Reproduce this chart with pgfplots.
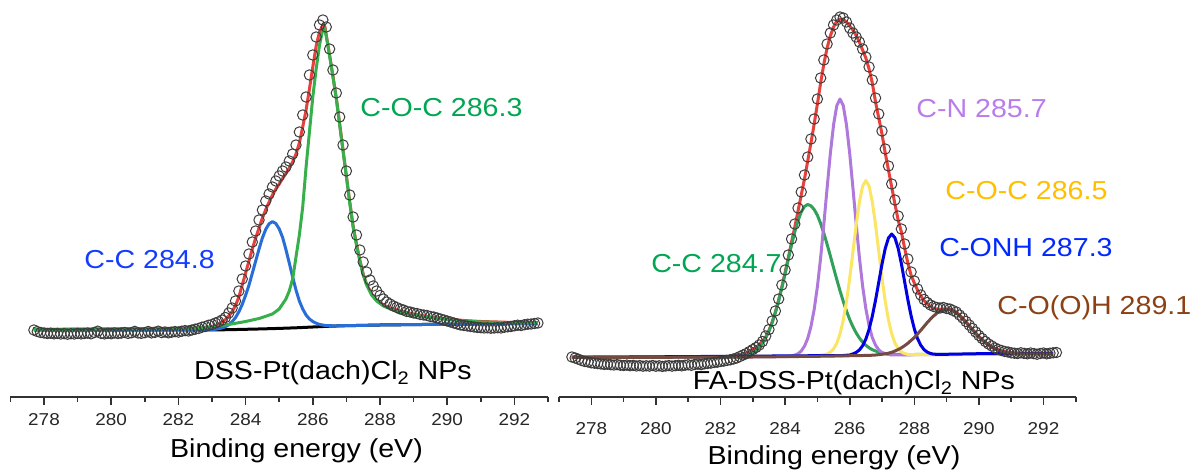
\documentclass[border=0pt]{standalone}
\usepackage{pgfplots}
\pgfplotsset{compat=1.18}
\usepackage{fontspec}
\setmainfont{Liberation Sans}[FakeStretch=1.1]
\definecolor{cred}{RGB}{232,64,58}
\definecolor{lgreen}{RGB}{55,175,75}
\definecolor{lblue}{RGB}{40,110,215}
\definecolor{tgreen}{RGB}{0,166,81}
\definecolor{tblue}{RGB}{20,60,255}
\definecolor{rgreen}{RGB}{50,160,90}
\definecolor{rpurple}{RGB}{175,120,220}
\definecolor{ryellow}{RGB}{250,230,100}
\definecolor{rblue}{RGB}{0,0,225}
\definecolor{rbrown}{RGB}{115,75,65}
\definecolor{tpurple}{RGB}{185,125,235}
\definecolor{torange}{RGB}{255,190,0}
\definecolor{tcblue}{RGB}{0,40,255}
\definecolor{tbrown}{RGB}{140,65,20}
\definecolor{circ}{RGB}{60,60,60}
\definecolor{axc}{RGB}{50,50,50}
\pgfplotsset{
  xps/.style={
    scale only axis, height=195pt,
    xmin=277, xmax=293, ymin=0, ymax=390,
    axis x line=bottom, axis y line=none,
    x axis line style={-, line width=0.9pt, draw=axc},
    xtick={278,280,...,292}, minor xtick={277,279,...,293},
    tick align=outside, major tick length=4pt, minor tick length=2.4pt,
    every tick/.style={line width=0.8pt, draw=axc},
    xticklabel style={font=\fontsize{8.6}{10}\selectfont, text=black!85},
    /pgf/number format/assume math mode=true,
    /pgf/number format/1000 sep={},
    clip=false,
  },
  dat/.style={only marks, mark=o, mark size=2.6pt, mark options={draw=circ, line width=0.5pt}},
  fit/.style={no marks, line width=1.5pt, line join=round},
}
\begin{document}
\begin{tikzpicture}
\useasboundingbox (0pt,0pt) rectangle (595.5pt,236pt);
% ---------------- left panel ----------------
\begin{axis}[xps, at={(5.2pt,37.5pt)}, anchor=south west, width=268.8pt,
  xticklabel style={yshift=-0.5pt}]
\addplot[dat] coordinates {
(277.7,67.0) (277.8,65.5) (277.9,64.5) (278.0,64.0) (278.1,63.5) (278.2,63.8) (278.3,63.2) (278.4,63.6) (278.5,63.0) (278.6,63.4)
(278.7,62.8) (278.8,63.3) (278.9,63.0) (279.0,63.6) (279.1,63.1) (279.2,63.5) (279.3,63.9) (279.4,63.2) (279.5,64.5) (279.6,65.8)
(279.7,63.6) (279.8,63.1) (279.9,63.7) (280.0,63.3) (280.1,64.0) (280.2,63.5) (280.3,63.9) (280.4,64.5) (280.5,63.6) (280.6,64.2)
(280.7,65.6) (280.8,64.0) (280.9,63.7) (281.0,64.3) (281.1,65.5) (281.2,64.1) (281.3,64.6) (281.4,65.8) (281.5,64.4) (281.6,65.0)
(281.7,64.2) (281.8,64.8) (281.9,65.4) (282.0,64.9) (282.1,65.8) (282.2,66.4) (282.3,66.0) (282.4,67.0) (282.5,67.8) (282.6,68.5)
(282.7,69.8) (282.8,70.5) (282.9,71.8) (283.0,72.5) (283.1,74.0) (283.2,75.2) (283.3,77.0) (283.4,79.5) (283.5,84.0) (283.6,89.0)
(283.7,96.0) (283.8,106.0) (283.9,118.0) (284.0,131.0) (284.1,143.0) (284.2,155.0) (284.3,166.0) (284.4,177.0) (284.5,187.0) (284.6,196.0)
(284.7,203.0) (284.8,210.0) (284.9,216.0) (285.0,221.0) (285.1,226.0) (285.2,230.0) (285.3,236.0) (285.4,243.0) (285.5,252.0) (285.6,265.0)
(285.7,282.0) (285.8,300.0) (285.9,322.0) (286.0,342.0) (286.1,360.0) (286.2,372.0) (286.3,377.0) (286.4,370.0) (286.5,348.0) (286.6,327.0)
(286.7,304.0) (286.8,280.0) (286.9,252.0) (287.0,226.0) (287.1,202.0) (287.2,180.0) (287.3,162.0) (287.4,147.0) (287.5,135.0) (287.6,125.0)
(287.7,117.0) (287.8,111.0) (287.9,106.0) (288.0,101.5) (288.1,98.0) (288.2,95.0) (288.3,93.0) (288.4,91.0) (288.5,89.5) (288.6,88.0)
(288.7,87.0) (288.8,85.5) (288.9,85.0) (289.0,84.0) (289.1,83.5) (289.2,82.5) (289.3,82.0) (289.4,81.5) (289.5,80.5) (289.6,80.0)
(289.7,79.0) (289.8,78.0) (289.9,77.0) (290.0,76.0) (290.1,75.0) (290.2,74.0) (290.3,73.0) (290.4,72.0) (290.5,71.5) (290.6,71.0)
(290.7,70.5) (290.8,70.0) (290.9,69.5) (291.0,69.3) (291.1,69.0) (291.2,69.2) (291.3,68.8) (291.4,69.0) (291.5,69.3) (291.6,69.0)
(291.7,69.8) (291.8,70.2) (291.9,70.5) (292.0,71.2) (292.1,71.8) (292.2,71.5) (292.3,72.3) (292.4,72.8) (292.5,73.0) (292.6,73.5)
(292.7,74.0)
};
% Shirley background
\addplot[fit, black] coordinates {
(277.7,67) (282.5,67) (283,67.1) (283.5,67.3) (284,67.7) (284.5,68.1) (285,68.6) (285.5,69.2) (286,70) (286.5,70.8)
(287,71.3) (288,72) (290,72.8) (292.7,73.5)
};
% envelope
\addplot[fit, cred] coordinates {
(277.7,67.5) (282.5,68.9) (282.6,69) (282.8,69.4) (283.0,70.5) (283.1,71.5) (283.2,73) (283.3,75) (283.4,77.5) (283.5,81)
(283.6,85.5) (283.7,91.5) (283.8,100) (283.9,112) (284.0,124) (284.1,136) (284.2,148) (284.3,159) (284.4,169) (284.5,179)
(284.6,187.5) (284.7,195) (284.8,202) (284.9,208) (285.0,213) (285.1,218.5) (285.2,223.5) (285.3,229) (285.4,235) (285.5,243)
(285.6,254) (285.7,270) (285.8,287) (285.9,308) (286.0,330) (286.1,351) (286.2,365) (286.3,372) (286.35,372) (286.4,362)
(286.5,342) (286.6,321) (286.7,299) (286.8,273) (286.9,247) (287.0,221) (287.1,195) (287.2,171) (287.3,153) (287.4,137)
(287.5,123) (287.6,113) (287.75,103) (287.9,97) (288.1,92) (288.35,88.5) (288.6,86) (289.0,83) (289.5,80) (290.0,78)
(290.5,76.5) (291.0,75.5) (292.0,74.5) (292.7,74.3)
};
% C-C 284.8
\addplot[fit, lblue] coordinates {
(277.7,67) (282.5,67) (283.0,67.4) (283.1,67.8) (283.2,68.3) (283.3,69.1) (283.4,70.3) (283.5,72.3) (283.6,75.4) (283.7,79.4)
(283.8,85.2) (283.9,92.6) (284.0,101.7) (284.1,111.8) (284.2,123.8) (284.3,135.9) (284.4,148) (284.5,159.1) (284.6,167.7) (284.7,173.3)
(284.8,175.4) (284.9,173.5) (285.0,168.1) (285.1,159.7) (285.2,147.5) (285.3,134) (285.4,120) (285.5,107) (285.6,96) (285.7,88)
(285.8,82) (285.9,78) (286.0,75.5) (286.1,73.8) (286.2,72.6) (286.3,71.9) (286.4,71.5) (286.6,71.2) (287.0,71.3) (288.0,72)
(290.0,72.8) (292.7,73.5)
};
% C-O-C 286.3
\addplot[fit, lgreen] coordinates {
(277.7,67.5) (279,67.8) (280.5,68.1) (281.5,68.4) (282.5,68.9) (283.0,70) (283.5,72.5) (284.0,75.5) (284.4,78.5) (284.8,83)
(285.0,88) (285.2,98) (285.3,106) (285.4,118) (285.5,140) (285.6,162) (285.7,190) (285.8,230) (285.9,265) (286.0,300)
(286.1,328) (286.2,352) (286.3,368) (286.35,369) (286.4,361) (286.5,341) (286.6,320) (286.7,298) (286.8,272) (286.9,246)
(287.0,220) (287.1,194) (287.2,170) (287.3,152) (287.4,136) (287.5,122) (287.6,112) (287.75,102) (287.9,96) (288.1,91)
(288.35,87.5) (288.6,85) (289.0,82) (289.5,79.5) (290.0,77.5) (290.5,76) (291.0,75) (292.0,74.2) (292.7,74)
};
\end{axis}
% ---------------- right panel ----------------
\begin{axis}[xps, at={(279.5pt,37.5pt)}, anchor=south west, width=258.4pt,
  xticklabel style={yshift=-5pt}]
\addplot[dat] coordinates {
(277.4,40.0) (277.5,39.0) (277.6,37.8) (277.7,36.5) (277.8,35.5) (277.9,35.0) (278.0,34.2) (278.1,33.8) (278.2,33.4) (278.3,33.0)
(278.4,32.6) (278.5,32.8) (278.6,32.3) (278.7,32.0) (278.8,32.4) (278.9,31.8) (279.0,31.5) (279.1,31.9) (279.2,31.3) (279.3,31.6)
(279.4,31.0) (279.5,31.4) (279.6,30.8) (279.7,31.2) (279.8,30.9) (279.9,31.5) (280.0,30.8) (280.1,31.2) (280.2,30.6) (280.3,31.0)
(280.4,31.4) (280.5,30.9) (280.6,31.3) (280.7,31.7) (280.8,31.2) (280.9,31.8) (281.0,32.2) (281.1,31.7) (281.2,32.5) (281.3,32.9)
(281.4,32.4) (281.5,33.2) (281.6,33.6) (281.7,33.9) (281.8,34.5) (281.9,34.8) (282.0,35.5) (282.1,35.9) (282.2,36.6) (282.3,37.2)
(282.4,38.0) (282.5,39.0) (282.6,40.5) (282.7,42.0) (282.8,43.5) (282.9,45.5) (283.0,47.5) (283.1,49.5) (283.2,52.0) (283.3,55.5)
(283.4,61.0) (283.5,67.5) (283.6,76.0) (283.7,86.0) (283.8,98.0) (283.9,112.0) (284.0,127.0) (284.1,142.0) (284.2,158.0) (284.3,173.0)
(284.4,189.0) (284.5,205.0) (284.6,222.0) (284.7,240.0) (284.8,258.0) (284.9,278.0) (285.0,298.0) (285.1,319.0) (285.2,337.0) (285.3,353.0)
(285.4,364.0) (285.5,372.0) (285.6,377.0) (285.7,380.0) (285.8,379.0) (285.9,375.0) (286.0,369.0) (286.1,364.0) (286.2,360.0) (286.3,355.0)
(286.4,348.0) (286.5,340.0) (286.6,330.0) (286.7,317.0) (286.8,299.0) (286.9,283.0) (287.0,266.0) (287.1,248.0) (287.2,231.0) (287.3,213.0)
(287.4,197.0) (287.5,181.0) (287.6,168.0) (287.7,153.0) (287.8,138.0) (287.9,125.0) (288.0,116.0) (288.1,108.0) (288.2,102.0) (288.3,97.5)
(288.4,94.5) (288.5,92.0) (288.6,90.5) (288.7,89.5) (288.8,89.0) (288.9,89.5) (289.0,88.5) (289.1,88.0) (289.2,86.5) (289.3,85.0)
(289.4,82.0) (289.5,79.0) (289.6,75.5) (289.7,72.0) (289.8,68.5) (289.9,65.0) (290.0,61.5) (290.1,58.5) (290.2,55.5) (290.3,53.0)
(290.4,51.0) (290.5,49.0) (290.6,47.5) (290.7,46.5) (290.8,45.5) (290.9,45.0) (291.0,44.2) (291.1,43.8) (291.2,43.5) (291.3,44.2)
(291.4,43.6) (291.5,43.2) (291.6,44.0) (291.7,43.4) (291.8,42.8) (291.9,43.5) (292.0,44.0) (292.1,43.2) (292.2,43.8) (292.3,44.2)
(292.4,44.5)
};
% envelope
\addplot[fit, cred] coordinates {
(277.4,40) (282.4,40.5) (282.6,42) (282.8,44) (282.9,46) (283.0,47.5) (283.1,49.5) (283.2,52.5) (283.3,56) (283.4,60)
(283.5,66.5) (283.6,75) (283.7,85) (283.8,97) (283.9,110) (284.0,124.5) (284.1,139.5) (284.2,155) (284.3,170) (284.4,186)
(284.5,202) (284.6,218) (284.7,236) (284.8,254) (284.9,273) (285.0,293) (285.1,314) (285.2,333) (285.3,349) (285.4,361)
(285.5,370) (285.6,376) (285.7,378) (285.8,377.5) (285.9,375) (286.0,371) (286.1,367) (286.2,361.5) (286.3,355) (286.4,347)
(286.5,339) (286.6,328) (286.7,314) (286.8,295) (286.9,279) (287.0,263) (287.1,244) (287.2,227) (287.3,210) (287.4,193)
(287.5,177) (287.6,165) (287.7,149) (287.8,134) (287.9,122) (288.0,114) (288.1,107) (288.2,101) (288.3,96.5) (288.4,93)
(288.5,90.5) (288.6,88.5) (288.7,88) (288.8,87.8) (288.9,88) (289.0,88.2) (289.1,87.8) (289.2,86.6) (289.3,84.6) (289.4,82)
(289.5,78.7) (289.6,75.2) (289.7,71.4) (289.8,67.7) (289.9,64.1) (290.0,60.6) (290.1,57.5) (290.2,54.7) (290.3,52.3) (290.4,50.3)
(290.5,48.6) (290.6,47.3) (290.7,46.3) (290.8,45.5) (290.9,44.9) (291.0,44.5) (291.2,44) (291.5,43.7) (292.0,43.5) (292.3,43.5)
};
% C-C 284.7
\addplot[fit, rgreen] coordinates {
(277.4,39.6) (282.2,40) (282.4,40.2) (282.6,40.7) (282.8,41.8) (283.0,44.3) (283.1,46.5) (283.2,49.5) (283.3,53.7) (283.4,59.1)
(283.5,65.8) (283.6,74.4) (283.7,84.5) (283.8,96.2) (283.9,109.2) (284.0,123.4) (284.1,137.9) (284.2,152) (284.3,165.1) (284.4,176.3)
(284.5,185) (284.6,190.6) (284.7,192.5) (284.8,191.2) (284.9,187.5) (285.0,181.7) (285.1,173.5) (285.2,163.8) (285.3,152.8) (285.4,141.2)
(285.5,129.2) (285.6,117.5) (285.7,106.2) (285.8,95.7) (285.9,86.1) (286.0,77.5) (286.1,70.3) (286.2,64.1) (286.3,59) (286.4,54.9)
(286.5,51.7) (286.6,49.2) (286.7,47.3) (286.9,44.8) (287.1,43.5) (287.3,42.9) (287.6,42.5) (288,42.5) (290,42.8) (292.3,43)
};
% C-N 285.7
\addplot[fit, rpurple] coordinates {
(277.4,39.6) (284.1,40.5) (284.2,41) (284.3,41.9) (284.4,43.3) (284.5,46) (284.6,50.8) (284.7,58.5) (284.8,70.4) (284.9,87.5)
(285.0,110.3) (285.1,139.2) (285.2,173) (285.3,208.8) (285.4,243.3) (285.5,272) (285.6,291.3) (285.7,298) (285.8,291.5) (285.9,272.3)
(286.0,243.6) (286.1,209.1) (286.2,173.4) (286.3,139.7) (286.4,111) (286.5,88.3) (286.6,71.2) (286.7,59.4) (286.8,51.8) (286.9,47.1)
(287.0,44.5) (287.1,43.1) (287.3,42) (287.6,42.2) (292.3,43)
};
% C-O-C 286.5
\addplot[fit, ryellow] coordinates {
(277.4,39.6) (285.0,41.2) (285.2,42.2) (285.3,43.1) (285.4,44.8) (285.5,48.1) (285.6,53.8) (285.7,63) (285.8,76.7) (285.9,95.4)
(286.0,118.7) (286.1,145.1) (286.2,171.9) (286.3,195) (286.4,210.9) (286.5,216.5) (286.6,211) (286.7,195.1) (286.8,172.2) (286.9,145.4)
(287.0,119) (287.1,95.7) (287.2,77) (287.3,63.3) (287.4,54.1) (287.5,48.4) (287.6,45.1) (287.7,43.5) (287.8,42.6) (288.0,42.3)
(292.3,43)
};
% C-ONH 287.3
\addplot[fit, rblue] coordinates {
(277.4,39.6) (285.8,41.5) (286.0,42.0) (286.1,43.1) (286.2,44.6) (286.3,47) (286.4,51.3) (286.5,57.9) (286.6,67.7) (286.7,80.8)
(286.8,96.8) (286.9,114.8) (287.0,132.9) (287.1,148.5) (287.2,159) (287.3,163) (287.4,159.2) (287.5,148.8) (287.6,133.3) (287.7,115.4)
(287.8,97.4) (287.9,81.3) (288.0,68.3) (288.1,58.4) (288.2,51.8) (288.3,47.4) (288.4,44.9) (288.5,43.5) (288.6,42.8) (288.8,42.6)
(290,43.3) (292.3,43.8)
};
% C-O(O)H 289.1
\addplot[fit, rbrown] coordinates {
(277.4,39.5) (280,39.7) (283,40) (285,40.7) (286.6,41.6) (286.8,42) (287.0,42.7) (287.2,43.8) (287.3,44.7) (287.4,46)
(287.5,47.4) (287.6,49.2) (287.7,51.3) (287.8,53.7) (287.9,56.6) (288.0,59.4) (288.1,63) (288.2,66.7) (288.3,70.5) (288.4,74.4)
(288.5,77.9) (288.6,81.1) (288.7,83.8) (288.8,85.9) (288.9,87.2) (289.0,87.6) (289.1,87.2) (289.2,86) (289.3,84) (289.4,81.3)
(289.5,78.1) (289.6,74.6) (289.7,70.8) (289.8,67.1) (289.9,63.5) (290.0,60) (290.1,56.9) (290.2,54.1) (290.3,51.7) (290.4,49.7)
(290.5,48) (290.6,46.7) (290.7,45.7) (290.8,44.9) (290.9,44.3) (291.0,43.9) (291.2,43.3) (291.4,43.1) (292.3,43)
};
\end{axis}
% ---------------- texts ----------------
\begin{scope}[every node/.style={inner sep=0pt, font=\fontsize{13}{15}\selectfont}]
\node[anchor=base west, text=tgreen] at (180pt,177.5pt) {C-O-C 286.3};
\node[anchor=base west, text=tblue] at (42pt,101.5pt) {C-C 284.8};
\node[anchor=base] at (166.5pt,46pt) {DSS-Pt(dach)Cl\textsubscript{2} NPs};
\node[anchor=base] at (148.25pt,7pt) {Binding energy (eV)};
\node[anchor=base west, text=tpurple] at (458pt,177pt) {C-N 285.7};
\node[anchor=base west, text=torange] at (472.5pt,136pt) {C-O-C 286.5};
\node[anchor=base west, text=tcblue] at (469.5pt,107.5pt) {C-ONH 287.3};
\node[anchor=base west, text=tbrown] at (498.5pt,78.5pt) {C-O(O)H 289.1};
\node[anchor=base east, text=tgreen] at (391pt,99.5pt) {C-C 284.7};
\node[anchor=base] at (427pt,41pt) {FA-DSS-Pt(dach)Cl\textsubscript{2} NPs};
\node[anchor=base] at (417pt,3.5pt) {Binding energy (eV)};
\end{scope}
\end{tikzpicture}
\end{document}
